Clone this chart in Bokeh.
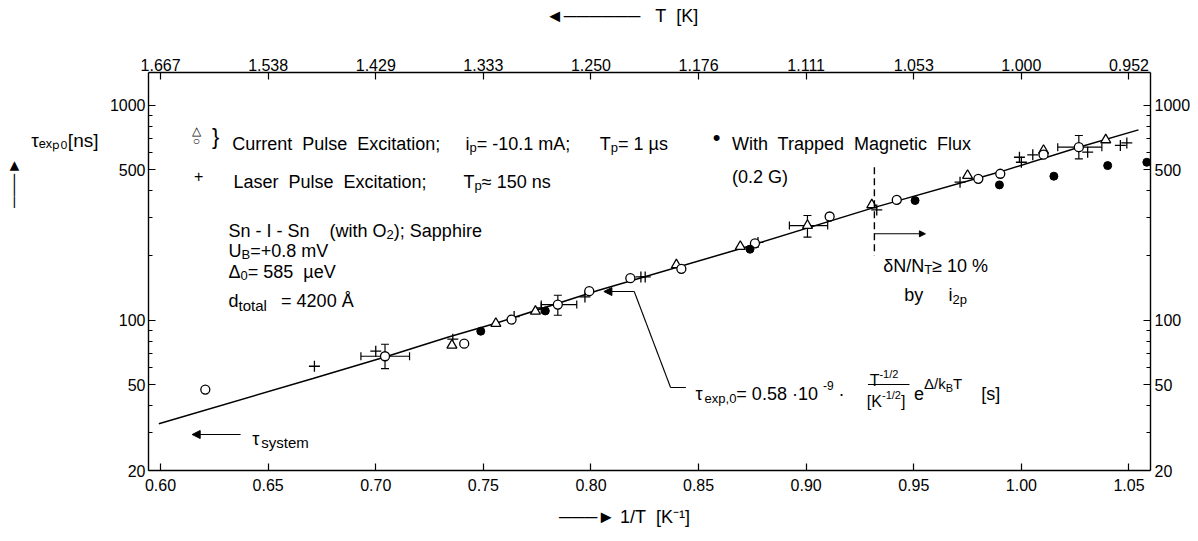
import numpy as np
from bokeh.plotting import figure
from bokeh.models import (LogAxis, LinearAxis, FixedTicker, Label, Arrow, NormalHead,
                          TeeHead, Whisker, ColumnDataSource, PrintfTickFormatter, Range1d)
from bokeh.embed import file_html
from bokeh.resources import INLINE

# ---------------- data ----------------
x_ticks = [0.60, 0.65, 0.70, 0.75, 0.80, 0.85, 0.90, 0.95, 1.00, 1.05]
x_tick_labels = ["0.60", "0.65", "0.70", "0.75", "0.80", "0.85", "0.90", "0.95", "1.00", "1.05"]
top_tick_labels = ["1.667", "1.538", "1.429", "1.333", "1.250", "1.176", "1.111", "1.053", "1.000", "0.952"]
y_ticks = [20, 50, 100, 500, 1000]
y_tick_labels = ["20", "50", "100", "500", "1000"]
y_minor_ticks = [30, 40, 60, 70, 80, 90, 200, 300, 400, 600, 700, 800, 900]

# fitted curve tau_exp,0
fit_x = [0.5992, 0.6708, 0.7043, 0.7338, 0.7554, 0.8032, 0.8694, 0.9318, 0.9902, 1.0267, 1.0544]
fit_y = [33.0, 53.6, 67.5, 83.6, 96.5, 137.5, 215, 335, 490, 638, 768]

# current pulse excitation, open circles
circ_x = [0.6208, 0.7043, 0.7411, 0.7631, 0.7846, 0.7992, 0.8183, 0.8420, 0.8762, 0.9109,
          0.9421, 0.9800, 0.9902, 1.0103, 1.0267]
circ_y = [47.6, 68.0, 77.8, 100.7, 118.3, 136.5, 156.9, 173.4, 228, 303.7,
          362.9, 454.6, 480, 589, 638]
# current pulse excitation, open triangles
tri_x = [0.7354, 0.7558, 0.7742, 0.8397, 0.8694, 0.9006, 0.9305, 0.9750, 1.0103, 1.0392]
tri_y = [76.5, 96.5, 110, 181, 220.2, 275.7, 344, 471, 616, 690]
# laser pulse excitation, crosses
laser_x = [0.6715, 0.7000, 0.7358, 0.7643, 0.7769, 0.7972, 0.8232, 0.8252, 0.8776,
           0.9328, 0.9715, 0.9991, 1.0000, 1.0053, 1.0308, 1.0460, 1.0490]
laser_y = [61.1, 71.8, 81.6, 104, 114, 128.4, 159, 159, 230,
           326, 438.7, 573, 543, 588, 605, 650, 668]
# with trapped magnetic flux, filled circles
flux_x = [0.7488, 0.7788, 0.8739, 0.9506, 0.9898, 1.0151, 1.0401, 1.0583]
flux_y = [88.9, 110.5, 214, 360.5, 426, 467.7, 524, 543]

# error bars
eb_x = [0.7043, 0.7846, 0.9006, 1.0267]
eb_y = [68.0, 118.3, 275.7, 638]
eb_x_lo = [0.6931, 0.7769, 0.8922, 1.0169]
eb_x_hi = [0.7157, 0.7934, 0.9100, 1.0374]
eb_y_lo = [59.6, 105.5, 243.3, 563]
eb_y_hi = [77.3, 130.7, 307, 723]

# captions
NB = "\u00a0"
x_caption = "───►" + NB + "1/T" + NB * 2 + "[K⁻¹]" + NB * 10
top_caption = "◄──────" + NB * 3 + "T" + NB * 2 + "[K]" + NB * 11
y_caption = "τₑₓₚ₀[ns]"
y_caption_at = 685
y_arrow = "───►"
y_arrow_at = 435

# ---------------- figure ----------------
FONT = "Liberation Sans"
W, H = 1196, 540
FL, FR, FT, FB = 148, 1150, 72, 470

p = figure(width=W, height=H, x_range=Range1d(0.5944, 1.06), y_range=Range1d(20, 1420),
           y_axis_type="log", output_backend="svg", toolbar_location=None,
           min_border_left=FL, min_border_right=W - FR, min_border_top=FT,
           min_border_bottom=H - FB)
p.grid.visible = False
p.outline_line_color = None
p.background_fill_color = "white"
p.border_fill_color = "white"

bottom = p.xaxis[0]
left = p.yaxis[0]
bottom.ticker = FixedTicker(ticks=x_ticks, minor_ticks=[])
bottom.major_label_overrides = {t: l for t, l in zip(x_ticks, x_tick_labels)}
bottom.formatter = PrintfTickFormatter(format="%.2f")
left.ticker = FixedTicker(ticks=y_ticks, minor_ticks=y_minor_ticks)
left.formatter = PrintfTickFormatter(format="%d")
left.major_label_overrides = {t: l for t, l in zip(y_ticks, y_tick_labels)}

top = LinearAxis(ticker=FixedTicker(ticks=x_ticks, minor_ticks=[]),
                 major_label_overrides={t: l for t, l in zip(x_ticks, top_tick_labels)})
right = LogAxis(ticker=FixedTicker(ticks=y_ticks, minor_ticks=y_minor_ticks),
                formatter=PrintfTickFormatter(format="%d"),
                major_label_overrides={t: l for t, l in zip(y_ticks, y_tick_labels)})
p.add_layout(top, "above")
p.add_layout(right, "right")

for ax, so in [(bottom, 8), (left, 3), (top, 2), (right, 4)]:
    ax.axis_line_width = 1.4
    ax.axis_line_color = "black"
    ax.major_tick_line_color = "black"
    ax.minor_tick_line_color = "black"
    ax.major_tick_line_width = 1.2
    ax.minor_tick_line_width = 1.0
    ax.major_tick_in = 7
    ax.major_tick_out = 0
    ax.minor_tick_in = 4
    ax.minor_tick_out = 0
    ax.major_label_text_font = FONT
    ax.major_label_text_font_size = "16px"
    ax.major_label_text_color = "black"
    ax.major_label_standoff = so
    ax.axis_label_text_font = FONT
    ax.axis_label_text_font_style = "normal"
    ax.axis_label_text_font_size = "18px"
    ax.axis_label_text_color = "black"

bottom.axis_label = x_caption
bottom.axis_label_standoff = 13
top.axis_label = top_caption
top.axis_label_standoff = 30
left.axis_label = None
right.axis_label = None

# horizontal y caption and its upward arrow, as extra label-only axes on the left
cap_axis = LogAxis(ticker=FixedTicker(ticks=[y_caption_at], minor_ticks=[]),
                   major_label_overrides={y_caption_at: y_caption})
arr_axis = LogAxis(ticker=FixedTicker(ticks=[y_arrow_at], minor_ticks=[]),
                   major_label_overrides={y_arrow_at: y_arrow},
                   major_label_orientation="vertical")
for ax, size, so in [(cap_axis, "19px", 2), (arr_axis, "16px", 0)]:
    ax.axis_line_color = None
    ax.major_tick_line_color = None
    ax.minor_tick_line_color = None
    ax.major_label_text_font = FONT
    ax.major_label_text_font_size = size
    ax.major_label_text_color = "black"
    ax.major_label_standoff = so
p.add_layout(cap_axis, "left")
p.add_layout(arr_axis, "left")

# ---------------- glyphs ----------------
p.line(fit_x, fit_y, line_color="black", line_width=1.5)

eb = ColumnDataSource(dict(x=eb_x, y=eb_y, xl=eb_x_lo, xh=eb_x_hi, yl=eb_y_lo, yh=eb_y_hi))
p.add_layout(Whisker(source=eb, base="y", lower="xl", upper="xh", dimension="width",
                     line_width=1.2, line_color="black",
                     lower_head=TeeHead(size=8, line_width=1.2), upper_head=TeeHead(size=8, line_width=1.2)))
p.add_layout(Whisker(source=eb, base="x", lower="yl", upper="yh", dimension="height",
                     line_width=1.2, line_color="black",
                     lower_head=TeeHead(size=8, line_width=1.2), upper_head=TeeHead(size=8, line_width=1.2)))

p.scatter(laser_x, laser_y, marker="cross", size=11, line_color="black", line_width=1.3)
p.scatter(tri_x, tri_y, marker="triangle", size=10, fill_color="white", line_color="black", line_width=1.3)
p.scatter(circ_x, circ_y, marker="circle", size=9, fill_color="white", line_color="black", line_width=1.3)
p.scatter(flux_x, flux_y, marker="circle", size=8, fill_color="black", line_color="black")

# ---------------- annotations ----------------
_W = {' ': 278, '\u00a0': 278, '%': 889, '(': 333, ')': 333, '+': 584, ',': 278, '-': 333, '.': 278,
      '/': 278, ':': 278, ';': 278, '=': 584, '[': 278, ']': 278, '{': 334, '}': 334, '·': 333,
      'A': 667, 'B': 667, 'C': 722, 'D': 722, 'E': 667, 'F': 611, 'G': 778, 'H': 722, 'I': 278,
      'J': 500, 'K': 667, 'L': 556, 'M': 833, 'N': 722, 'O': 778, 'P': 667, 'Q': 778, 'R': 722,
      'S': 667, 'T': 611, 'U': 722, 'V': 667, 'W': 944, 'X': 667, 'Y': 667, 'Z': 611,
      'a': 556, 'b': 556, 'c': 500, 'd': 556, 'e': 556, 'f': 278, 'g': 556, 'h': 556, 'i': 222,
      'j': 222, 'k': 500, 'l': 222, 'm': 833, 'n': 556, 'o': 556, 'p': 556, 'q': 556, 'r': 333,
      's': 500, 't': 278, 'u': 556, 'v': 500, 'w': 722, 'x': 500, 'y': 500, 'z': 500,
      'µ': 556, 'Δ': 668, 'δ': 556, 'τ': 500, '≥': 549, '≈': 549, 'Å': 667}


def tw(s, size):
    return sum(_W.get(c, 556) for c in s) * size / 1000.0


def yv(py):
    # image pixel row -> data value on the log axis
    return 10 ** (np.log10(20) + (FB - py) / 215.0)


def lab(x, py, text, size=18, align="left", baseline="alphabetic", xoff=0.0):
    p.add_layout(Label(x=x, y=yv(py), x_offset=xoff, text=text, text_font=FONT,
                       text_font_size=f"{size}px", text_color="black",
                       text_align=align, text_baseline=baseline))


def rich(x, py, pieces):
    off = 0.0
    for txt, size, dy in pieces:
        lab(x, py + dy, txt, size=size, xoff=off)
        off += tw(txt, size)


def arrow(x0, py0, x1, py1, head=True, dash="solid", size=9, lw=1.3):
    end = NormalHead(size=size, fill_color="black", line_color="black", line_width=1) if head else None
    p.add_layout(Arrow(end=end, x_start=x0, y_start=yv(py0), x_end=x1, y_end=yv(py1),
                       line_color="black", line_width=lw, line_dash=dash))


S = NB  # non-collapsing space for wide lettering

# legend block
lab(0.6167, 130, "△", size=12, align="center", baseline="middle")
lab(0.6167, 140, "○", size=12, align="center", baseline="middle")
lab(0.6256, 136, "}", size=22, align="center", baseline="middle")
rich(0.6333, 143, [("Current" + S + " Pulse" + S + " Excitation;", 18, 0)])
rich(0.7417, 143, [("i", 18, 0), ("p", 13, 4), (" = -10.1 mA;", 18, 0)])
rich(0.8041, 143, [("T", 18, 0), ("p", 13, 4), (" = 1 µs", 18, 0)])
lab(0.8584, 137, "•", size=22, align="center", baseline="middle")
rich(0.8655, 143, [("With" + S + " Trapped" + S + " Magnetic" + S + " Flux", 18, 0)])
rich(0.8655, 176, [("(0.2 G)", 18, 0)])
lab(0.6177, 175, "+", size=16, align="center", baseline="middle")
rich(0.6339, 181, [("Laser" + S + " Pulse" + S + " Excitation;", 18, 0)])
rich(0.7408, 181, [("T", 18, 0), ("p", 13, 4), (" ≈ 150 ns", 18, 0)])

# sample parameters
rich(0.6316, 230, [("Sn - I - Sn" + S + S + S + " (with O", 18, 0), ("2", 13, 4), (" ); Sapphire", 18, 0)])
rich(0.6316, 250, [("U", 18, 0), ("B", 13, 4), ("=+0.8 mV", 18, 0)])
rich(0.6316, 271, [("Δ", 18, 0), ("0", 13, 4), ("= 585" + S + " µeV", 18, 0)])
rich(0.6316, 300, [("d", 18, 0), (" total", 15, 5), (S + " = 4200 Å", 18, 0)])

# dN/NT region marker
arrow(0.9317, 166.7, 0.9317, 255, head=False, dash="7 4", lw=1.4)
arrow(0.9317, 233.3, 0.9554, 233.3, size=6, lw=1.1)
rich(0.9358, 265, [("δN/N", 18, 0), ("T", 13, 4), (" ≥ 10 %", 18, 0)])
rich(0.9456, 294, [("by", 18, 0)])
rich(0.9661, 294, [("i", 18, 0), ("2p", 13, 5)])

# formula with leader
arrow(0.8201, 291, 0.8060, 291, size=8, lw=1.1)
arrow(0.8201, 291, 0.8370, 387, head=False, lw=1.1)
arrow(0.8370, 387, 0.8441, 387, head=False, lw=1.1)
rich(0.8486, 393, [("τ", 18, 0), ("exp,0", 13, 5), (" = 0.58 ·10", 18, 0), ("-9", 12, -8), (S + "·", 18, 0)])
rich(0.9295, 380, [("T", 16, 0), ("-1/2", 11, -7)])
arrow(0.9287, 384, 0.9480, 384, head=False, lw=1.0)
rich(0.9282, 401, [("[K", 16, 0), ("-1/2", 11, -7), ("]", 16, 0)])
rich(0.9501, 393, [("e", 18, 0), ("Δ/k", 15, -10), ("B", 11, -6), ("T", 15, -10)])
rich(0.9813, 393, [("[s]", 18, 0)])

# tau_system
arrow(0.6372, 434, 0.6147, 434, size=8, lw=1.2)
rich(0.6426, 438, [("τ", 18, 0), ("system", 15, 4)])

open("out.html", "w").write(file_html(p, INLINE))
